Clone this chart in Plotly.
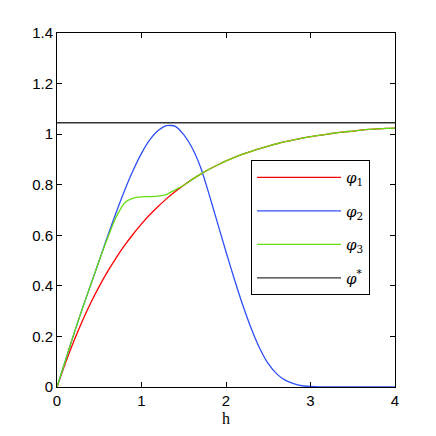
import plotly.graph_objects as go

# h grid
h = [0.0, 0.1, 0.2, 0.3, 0.4, 0.5, 0.6, 0.7, 0.8, 0.9, 1.0, 1.1, 1.2, 1.3, 1.4, 1.5,
     1.6, 1.7, 1.8, 1.9, 2.0, 2.1, 2.2, 2.3, 2.4, 2.5, 2.6, 2.7, 2.8, 2.9, 3.0,
     3.1, 3.2, 3.3, 3.4, 3.5, 3.6, 3.7, 3.8, 3.9, 4.0]

phi1 = [0.0, 0.095, 0.182, 0.261, 0.333, 0.398, 0.457, 0.511, 0.560, 0.604, 0.645,
        0.682, 0.715, 0.746, 0.773, 0.798, 0.821, 0.842, 0.861, 0.878, 0.894,
        0.908, 0.921, 0.932, 0.943, 0.953, 0.962, 0.970, 0.977, 0.984, 0.990,
        0.995, 1.000, 1.005, 1.009, 1.012, 1.016, 1.019, 1.021, 1.023, 1.024]

phi2 = [0.0, 0.105, 0.21, 0.31, 0.405, 0.50, 0.597, 0.69, 0.777, 0.856, 0.924,
        0.978, 1.015, 1.034, 1.031, 0.998, 0.945, 0.868, 0.762, 0.648, 0.535,
        0.425, 0.322, 0.23, 0.152, 0.092, 0.052, 0.027, 0.013, 0.005, 0.002,
        0.0, 0.0, 0.0, 0.0, 0.0, 0.0, 0.0, 0.0, 0.0, 0.0]

phi3 = [0.0, 0.105, 0.21, 0.31, 0.405, 0.50, 0.59, 0.672, 0.728, 0.747, 0.752,
        0.753, 0.755, 0.762, 0.780, 0.798, 0.821, 0.842, 0.861, 0.878, 0.894,
        0.908, 0.921, 0.932, 0.943, 0.953, 0.962, 0.970, 0.977, 0.984, 0.990,
        0.995, 1.000, 1.005, 1.009, 1.012, 1.016, 1.019, 1.021, 1.023, 1.024]

phi_star_h = [0.0, 4.0]
phi_star = [1.045, 1.045]

x_ticks = [0, 1, 2, 3, 4]
y_ticks = [0, 0.2, 0.4, 0.6, 0.8, 1.0, 1.2, 1.4]
y_tick_labels = ["0", "0.2", "0.4", "0.6", "0.8", "1", "1.2", "1.4"]

fig = go.Figure()
series = [
    (h, phi1, "<i>φ</i><sub>1</sub>", "#ff0000", "spline"),
    (h, phi2, "<i>φ</i><sub>2</sub>", "#3050f8", "spline"),
    (h, phi3, "<i>φ</i><sub>3</sub>", "#66dd11", "spline"),
    (phi_star_h, phi_star, "<i>φ</i><sup>*</sup>", "#333333", "linear"),
]
for i, (xs, ys, name, col, shape) in enumerate(series):
    fig.add_trace(go.Scatter(x=xs, y=ys, mode="lines", name=name,
                             legendgroup=f"g{i}",
                             line=dict(color=col, width=1.3, shape=shape, smoothing=0.6)))

axis_common = dict(showline=True, linecolor="black", linewidth=1, mirror="ticks",
                   ticks="inside", ticklen=5, tickcolor="black", showgrid=False,
                   zeroline=False,
                   tickfont=dict(family="Liberation Sans, Arial", size=15, color="black"))

fig.update_layout(
    width=436, height=436,
    paper_bgcolor="white", plot_bgcolor="white",
    margin=dict(l=57, r=41, t=33, b=49),
    xaxis=dict(range=[0, 4], tickvals=x_ticks, ticktext=[str(t) for t in x_ticks],
               title=dict(text="h", font=dict(family="Liberation Serif, Times New Roman", size=16, color="black"),
                          standoff=4),
               **axis_common),
    yaxis=dict(range=[0, 1.4], tickvals=y_ticks, ticktext=y_tick_labels, **axis_common),
    legend=dict(x=0.574, y=0.641, xanchor="left", yanchor="top",
                bgcolor="white", bordercolor="black", borderwidth=1,
                font=dict(family="DejaVu Serif, Liberation Serif", size=15, color="black"),
                traceorder="grouped", tracegroupgap=11, itemwidth=84),
    showlegend=True,
)

fig.write_html("out.html", config={"displayModeBar": False},
               post_script="document.body.style.margin='0';document.body.style.padding='0';")
